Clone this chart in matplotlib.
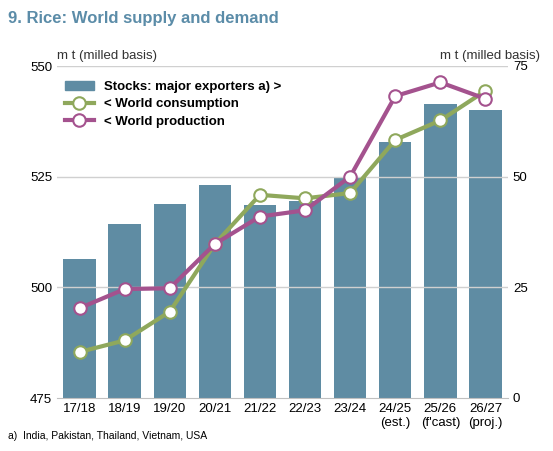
import matplotlib
matplotlib.use("Agg")
import matplotlib.pyplot as plt
from matplotlib.lines import Line2D
from matplotlib.patches import Patch

cats = ["17/18", "18/19", "19/20", "20/21", "21/22", "22/23", "23/24", "24/25\n(est.)", "25/26\n(f'cast)", "26/27\n(proj.)"]
stocks = [31.5, 39.4, 43.8, 48.1, 43.6, 44.6, 49.8, 57.9, 66.4, 65.1]
consumption = [485.4, 488.0, 494.5, 509.8, 520.9, 520.1, 521.3, 533.3, 537.7, 544.4]
production = [495.3, 499.6, 499.8, 509.8, 516.0, 517.4, 525.0, 543.2, 546.3, 542.6]

plt.rcParams['font.family'] = ['Liberation Sans', 'DejaVu Sans']
fig = plt.figure(figsize=(5.53, 4.51), dpi=100)
ax = fig.add_axes([57/553, 53/451, 451/553, 332/451])
ax2 = ax.twinx()
x = range(len(cats))
ax2.bar(x, stocks, width=0.72, color="#5f8ca3", zorder=1)
ax2.set_ylim(0, 75)
ax.set_ylim(475, 550)
ax.set_zorder(ax2.get_zorder() + 1)
ax.patch.set_visible(False)
for v in [500, 525, 550]:
    ax.axhline(v, color="#d0d0d0", lw=1, zorder=0)
ax2.grid(False)
mk = dict(marker='o', markersize=9, markerfacecolor='white', markeredgewidth=1.5)
ax.plot(x, consumption, color="#8fa85c", lw=3, markeredgecolor="#8fa85c", **mk)
ax.plot(x, production, color="#a4528e", lw=3, markeredgecolor="#a4528e", **mk)
ax.set_xlim(-0.5, 9.5)
ax.set_yticks([475, 500, 525, 550])
ax2.set_yticks([0, 25, 50, 75])
ax.set_xticks(list(x))
ax.set_xticklabels(cats, fontsize=9.5)
for a in (ax, ax2):
    for s in a.spines.values():
        s.set_visible(False)
    a.tick_params(length=0, labelsize=9.5)
ax.spines['bottom'].set_visible(True)
ax.spines['bottom'].set_color("#c0c0c0")
handles = [Patch(color="#5f8ca3"),
           Line2D([], [], color="#8fa85c", lw=3, markeredgecolor="#8fa85c", **mk),
           Line2D([], [], color="#a4528e", lw=3, markeredgecolor="#a4528e", **mk)]
ax.legend(handles, ["Stocks: major exporters a) >", "< World consumption", "< World production"],
          loc="upper left", bbox_to_anchor=(0.0, 0.98), frameon=False,
          prop={'weight': 'bold', 'size': 9.5}, handlelength=2.2, labelspacing=0.4, borderaxespad=0.2)
fig.text(8/553, 1 - 18/451, "9. Rice: World supply and demand", fontsize=12, fontweight='bold', color="#5b8ca8", va='center')
fig.text(57/553, 1 - 56/451, "m t (milled basis)", fontsize=9.5, va='center', color="#333333")
fig.text(540/553, 1 - 56/451, "m t (milled basis)", fontsize=9.5, va='center', ha='right', color="#333333")
fig.text(8/553, 1 - 436/451, "a)  India, Pakistan, Thailand, Vietnam, USA", fontsize=7.5, va='center')
fig.savefig("out.png", dpi=100)
